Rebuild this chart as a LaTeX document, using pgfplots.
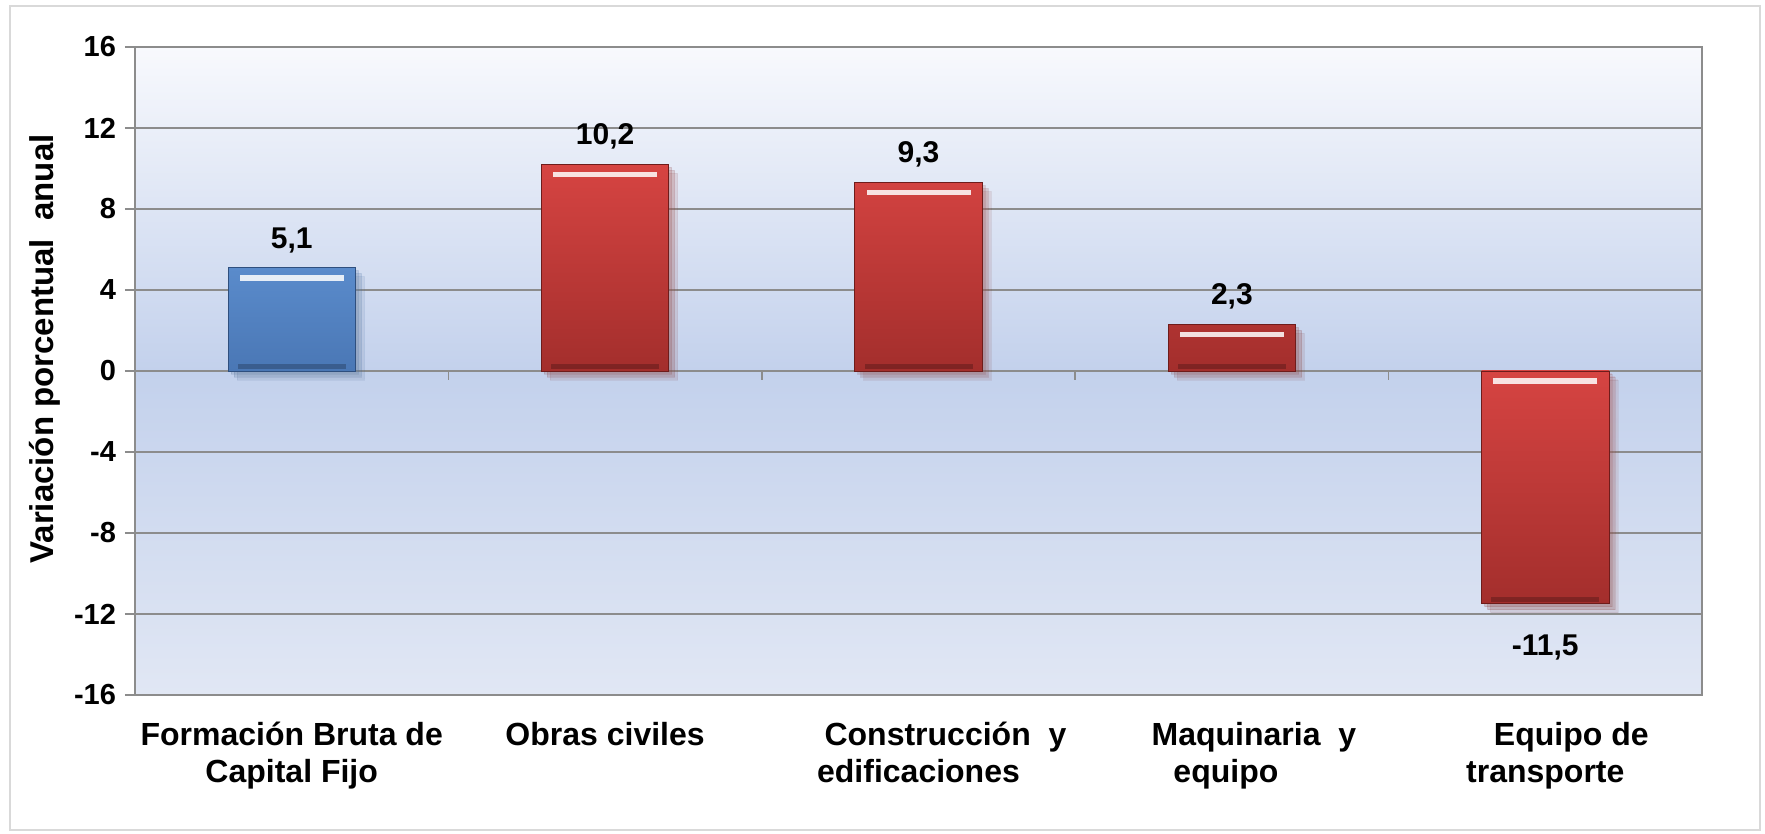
\documentclass[border=0pt]{standalone}
\usepackage{fontspec}
\setmainfont{Liberation Sans}
\usepackage{pgfplots}
\pgfplotsset{compat=1.18}
\usepackage{pgfplotstable}
\usetikzlibrary{shadows}

\definecolor{gridgray}{HTML}{8C8C8C}
\definecolor{bgtop}{HTML}{F8F9FD}
\definecolor{bgmid}{HTML}{C3D1EC}
\definecolor{bgbot}{HTML}{E1E7F4}
\definecolor{bluetop}{HTML}{5A8BCB}
\definecolor{bluebot}{HTML}{4A77B5}
\definecolor{blueedge}{HTML}{2F4F7E}
\definecolor{redtop}{HTML}{D64442}
\definecolor{redbot}{HTML}{A32E2C}
\definecolor{rededge}{HTML}{6E1C1B}
\newcommand{\tickfont}{\bfseries\fontsize{14.5}{17}\selectfont}
\newcommand{\catfont}{\bfseries\fontsize{16}{18.5}\selectfont}
\newcommand{\datafont}{\bfseries\fontsize{15}{18}\selectfont}
\newcommand{\ylfont}{\bfseries\fontsize{16.5}{19}\selectfont}

\pgfplotstableread{
x y lab
0 5.1 5,1
}\fbcf
\pgfplotstableread{
x y lab
1 10.2 10,2
2 9.3 9,3
3 2.3 2,3
}\pos
\pgfplotstableread{
x y lab
4 -11.5 -11,5
}\neg
\pgfplotstableread{
x y
0 5.1
1 10.2
2 9.3
3 2.3
4 0
}\hl
\pgfplotstableread{
x y
0 0
1 0
2 0
3 0
4 -11.5
}\lo

\begin{document}
\begin{tikzpicture}
\begin{axis}[
  scale only axis,
  width=783.5pt, height=324pt,
  xmin=-0.5, xmax=4.5, ymin=-16, ymax=16,
  ybar, bar width=0.406, bar shift=0pt,
  axis background/.style={top color=bgtop, bottom color=bgbot, middle color=bgmid},
  axis line style={gridgray, line width=0.8pt},
  ymajorgrids, grid style={gridgray, line width=0.8pt},
  ytick={-16,-12,-8,-4,0,4,8,12,16},
  yticklabels={-16,-12,-8,-4,0,4,8,12,16},
  ytick pos=left, tick align=outside, major tick length=5pt,
  ytick style={gridgray, line width=0.8pt},
  xtick={0,1,2,3,4},
  xtick style={draw=none},
  xticklabels={{Formación Bruta de\\Capital Fijo},{Obras\ civiles},{\hspace*{27pt}Construcción\ \ y\\edificaciones},{\hspace*{22pt}Maquinaria\ \ y\\equipo\hspace*{6pt}},{\hspace*{26pt}Equipo de\\transporte}},
  xticklabel style={align=center, font=\catfont, yshift=-5pt},
  yticklabel style={font=\tickfont, xshift=-1pt},
  ylabel={Variación porcentual\ \ anual},
  every axis y label/.style={at={(rel axis cs:-0.0575,0.534)}, rotate=90, anchor=center, font=\ylfont},
  point meta=explicit symbolic,
  nodes near coords,
  every node near coord/.append style={font=\datafont, text=black},
  clip=false,
  barshadow/.style={
    drop shadow={shadow xshift=1.5pt, shadow yshift=-1.5pt, opacity=0.12},
    drop shadow={shadow xshift=3pt, shadow yshift=-3pt, opacity=0.12},
    drop shadow={shadow xshift=4.5pt, shadow yshift=-4.5pt, opacity=0.08}},
]
\addplot[draw=blueedge, line width=0.4pt, top color=bluetop, bottom color=bluebot, barshadow,
  every node near coord/.append style={anchor=south, yshift=4pt}]
  table[x=x, y=y, meta=lab] {\fbcf};
\addplot[draw=rededge, line width=0.4pt, top color=redtop, bottom color=redbot, barshadow,
  every node near coord/.append style={anchor=south, yshift=4pt}]
  table[x=x, y=y, meta=lab] {\pos};
\addplot[draw=rededge, line width=0.4pt, top color=redtop, bottom color=redbot, barshadow,
  every node near coord/.append style={anchor=north, yshift=-12pt}]
  table[x=x, y=y, meta=lab] {\neg};
\addplot[only marks, nodes near coords=, mark=-, mark size=26pt, draw=white, opacity=0.85,
  line width=2.8pt, every mark/.append style={yshift=-5pt}]
  table[x=x, y=y, meta=x] {\hl};
\addplot[only marks, nodes near coords=, mark=-, mark size=27pt, draw=black, opacity=0.22,
  line width=2.5pt, every mark/.append style={yshift=2.2pt}]
  table[x=x, y=y, meta=x] {\lo};
\foreach \t in {0.5,1.5,2.5,3.5} {
  \edef\tmp{\noexpand\draw[gridgray, line width=0.8pt] (axis cs:\t,0) -- ++(0pt,-4.5pt);}\tmp
}
\draw[black!15, line width=1.2pt] (rel axis cs:-0.0798,-0.2083) rectangle (rel axis cs:1.037,1.0633);
\coordinate (bbsw) at (rel axis cs:-0.08615,-0.21451);
\coordinate (bbne) at (rel axis cs:1.04020,1.07253);
\end{axis}
\pgfresetboundingbox
\path (bbsw) rectangle (bbne);
\end{tikzpicture}
\end{document}
